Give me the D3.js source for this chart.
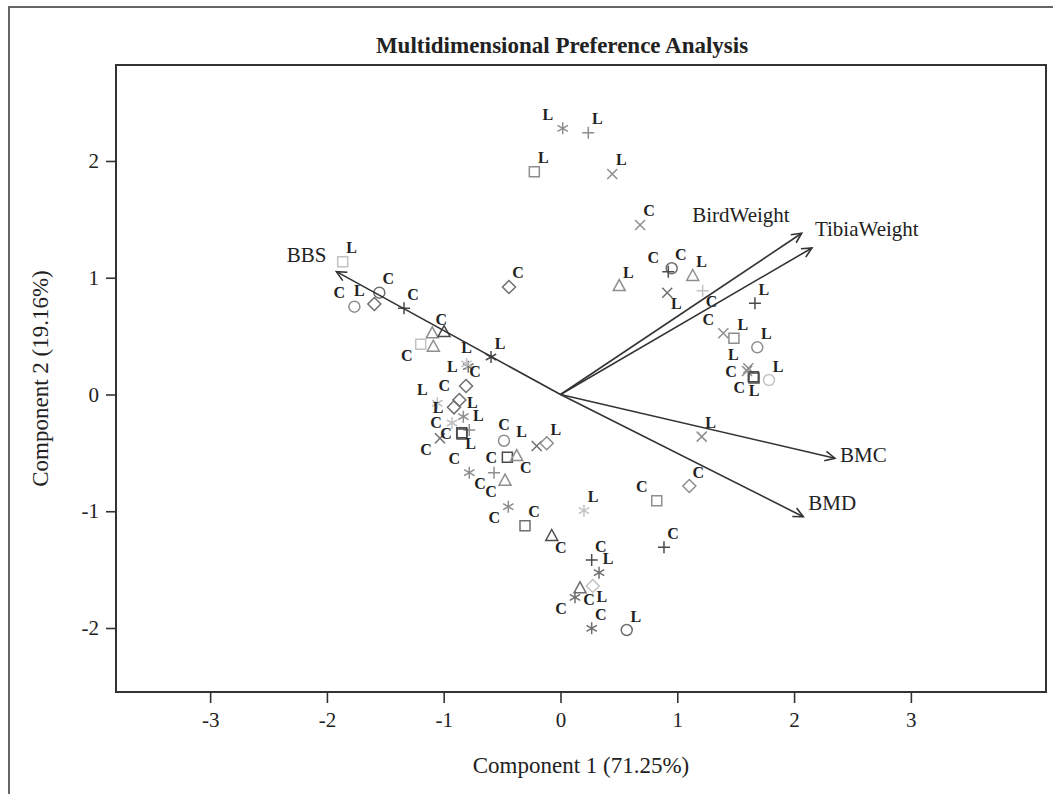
<!DOCTYPE html>
<html>
<head>
<meta charset="utf-8">
<script src="https://cdn.jsdelivr.net/npm/d3@7"></script>
<style>
  body { margin: 0; background: #fff; }
  text { font-family: "Liberation Serif", "Times New Roman", serif; fill: #222; }
  .obs-label { font-family: "Liberation Serif", "Times New Roman", serif; font-weight: bold; font-size: 16px; fill: #222; }
</style>
</head>
<body>
<script>
// 座標軸刻度
const xTicks = [-3, -2, -1, 0, 1, 2, 3],
  yTicks = [-2, -1, 0, 1, 2];

// 變數向量 (箭頭端點)
const vecNames = ["BBS", "BirdWeight", "TibiaWeight", "BMC", "BMD"],
  vecX = [-1.919, 2.065, 2.153, 2.350, 2.079],
  vecY = [1.052, 1.381, 1.255, -0.546, -1.047];

// 觀測值
const obsX = [
  0.019, 0.238, -0.224, 0.443, 0.681, 0.952, 0.923, 1.132, 0.503, 0.914,
  1.217, 1.665, 1.394, 1.485, 1.685, 1.608, 1.651, 1.785, 1.597, 1.657,
  1.209, 1.103, 0.824, 0.201, 0.886, -0.304, -0.075, 0.267, 0.330, 0.276,
  0.167, 0.124, 0.267, 0.567, -0.809, -0.866, -0.912, -1.055, -0.832, -0.781,
  -0.846, -1.032, -0.929, -0.843, -0.484, -0.204, -0.118, -0.455, -0.375, -0.781,
  -0.569, -0.475, -0.447, -1.865, -1.765, -1.594, -1.551, -1.340, -1.098, -0.997,
  -1.197, -1.089, -0.790, -0.595, -0.441, -0.805
];
const obsY = [
  2.280, 2.242, 1.908, 1.889, 1.452, 1.081, 1.052, 1.015, 0.929, 0.872,
  0.889, 0.781, 0.524, 0.481, 0.404, 0.224, 0.152, 0.124, 0.201, 0.141,
  -0.361, -0.784, -0.910, -0.995, -1.309, -1.124, -1.212, -1.418, -1.526, -1.640,
  -1.660, -1.737, -2.003, -2.017, 0.073, -0.047, -0.110, -0.075, -0.190, -0.304,
  -0.327, -0.375, -0.244, -0.338, -0.396, -0.441, -0.418, -0.538, -0.527, -0.670,
  -0.670, -0.738, -0.961, 1.137, 0.752, 0.775, 0.872, 0.738, 0.524, 0.535,
  0.430, 0.409, 0.238, 0.321, 0.921, 0.262
];
const obsSym = [
  "star", "plus", "square", "x", "x", "circle", "plus", "triangle", "triangle", "x",
  "plus", "plus", "x", "square", "circle", "x", "square", "circle", "x", "square",
  "x", "diamond", "square", "star", "plus", "square", "triangle", "plus", "star", "diamond",
  "triangle", "star", "star", "circle", "diamond", "diamond", "diamond", "star", "star", "plus",
  "square", "x", "star", "square", "circle", "x", "diamond", "square", "triangle", "star",
  "plus", "triangle", "star", "square", "circle", "diamond", "circle", "plus", "triangle", "triangle",
  "square", "triangle", "star", "star", "diamond", "star"
];
const obsShade = [
  "m", "m", "m", "m", "m", "md", "d", "m", "m", "md",
  "l", "d", "m", "m", "m", "m", "d", "l", "m", "d",
  "m", "m", "m", "l", "d", "md", "d", "d", "md", "l",
  "md", "md", "md", "md", "md", "md", "md", "l", "m", "m",
  "d", "md", "l", "d", "m", "md", "m", "d", "m", "m",
  "m", "m", "m", "l", "m", "md", "md", "d", "m", "d",
  "l", "m", "md", "d", "md", "l"
];
const obsLab = [
  "L", "L", "L", "L", "C", "C", "C", "L", "L", "L",
  "C", "L", "C", "L", "L", "L", "C", "L", "C", "L",
  "L", "C", "C", "L", "C", "C", "C", "C", "L", "L",
  "C", "C", "C", "L", "C", "C", "L", "L", "L", "L",
  "L", "C", "C", "C", "C", "L", "L", "C", "C", "C",
  "C", "C", "C", "L", "C", "L", "C", "C", "C", "",
  "C", "", "L", "L", "C", "L"
];
// 標籤方位
const obsPos = [
  "nw", "ne", "ne", "ne", "ne", "ne", "nw", "ne", "ne", "se",
  "se", "ne", "nw", "ne", "ne", "nw", "sw", "ne", "w", "s",
  "ne", "ne", "nw", "ne", "ne", "ne", "se", "ne", "ne", "se",
  "se", "sw", "ne", "ne", "ne", "nw", "w", "nw", "ne", "ne",
  "se", "sw", "w", "w", "n", "nw", "ne", "w", "se", "nw",
  "sw", "sw", "sw", "ne", "nw", "nw", "ne", "ne", "ne", "n",
  "sw", "e", "w", "ne", "ne", "n"
];

// 顏色與符號
const shades = { d: "#4b4b4b", md: "#6f6f6f", m: "#8e8e8e", l: "#c2c2c2" };
const symbols = {
  square: "M-5,-5H5V5H-5Z",
  circle: "M5.5,0A5.5,5.5 0 1 1 -5.5,0A5.5,5.5 0 1 1 5.5,0Z",
  triangle: "M0,-6.5L6,4.5H-6Z",
  diamond: "M0,-6.5L6.5,0L0,6.5L-6.5,0Z",
  plus: "M-6,0H6M0,-6V6",
  x: "M-5,-5L5,5M-5,5L5,-5",
  star: "M0,-6V6M-5.2,-3L5.2,3M-5.2,3L5.2,-3"
};
const labelOffset = {
  ne: [9, -14], nw: [-15, -14], se: [9, 11], sw: [-14, 11],
  e: [13, -2], w: [-16, 0], n: [0, -16], s: [0, 12]
};

const W = 1053, H = 794;
const frame = { left: 116, right: 1046, top: 65, bottom: 692 };

const svg = d3.select("body").append("svg")
  .attr("width", W)
  .attr("height", H);

// 外框
svg.append("rect")
  .attr("x", 9).attr("y", 7)
  .attr("width", W + 20).attr("height", H + 20)
  .attr("fill", "none")
  .attr("stroke", "#666")
  .attr("stroke-width", 2);

// 比例尺
let x = d3.scaleLinear()
  .domain([-3.806, 4.157])
  .range([frame.left, frame.right]);
let y = d3.scaleLinear()
  .domain([-2.548, 2.822])
  .range([frame.bottom, frame.top]);

// 座標軸
let xAxis = d3.axisBottom(x)
  .tickValues(xTicks)
  .tickFormat(d => String(d))
  .tickSize(11)
  .tickPadding(9);
let yAxis = d3.axisLeft(y)
  .tickValues(yTicks)
  .tickFormat(d => String(d))
  .tickSize(10)
  .tickPadding(7);

let gx = svg.append("g")
  .attr("transform", "translate(0," + frame.bottom + ")")
  .call(xAxis);
let gy = svg.append("g")
  .attr("transform", "translate(" + frame.left + ",0)")
  .call(yAxis);

[gx, gy].forEach(g => {
  g.select(".domain").remove();
  g.selectAll(".tick line").attr("stroke", "#333").attr("stroke-width", 1.6);
  g.selectAll(".tick text")
    .attr("fill", "#222")
    .style("font-family", '"Liberation Serif", "Times New Roman", serif')
    .style("font-size", "21px");
});

// 圖框
svg.append("rect")
  .attr("x", frame.left).attr("y", frame.top)
  .attr("width", frame.right - frame.left)
  .attr("height", frame.bottom - frame.top)
  .attr("fill", "none")
  .attr("stroke", "#333")
  .attr("stroke-width", 2);

// 標題
svg.append("text")
  .attr("x", 562)
  .attr("y", 53)
  .attr("text-anchor", "middle")
  .style("font-size", "23px")
  .style("font-weight", "bold")
  .text("Multidimensional Preference Analysis");

svg.append("text")
  .attr("x", (frame.left + frame.right) / 2)
  .attr("y", 773)
  .attr("text-anchor", "middle")
  .style("font-size", "23px")
  .text("Component 1 (71.25%)");

svg.append("text")
  .attr("transform", "translate(48," + (frame.top + frame.bottom) / 2 + ") rotate(-90)")
  .attr("text-anchor", "middle")
  .style("font-size", "23px")
  .text("Component 2 (19.16%)");

// 觀測點
const obs = obsX.map((v, i) => ({
  x: v, y: obsY[i], sym: obsSym[i], shade: obsShade[i], lab: obsLab[i], pos: obsPos[i]
}));

let gObs = svg.append("g");
gObs.selectAll("path")
  .data(obs)
  .join("path")
  .attr("transform", d => "translate(" + x(d.x) + "," + y(d.y) + ")")
  .attr("d", d => symbols[d.sym])
  .attr("fill", "none")
  .attr("stroke", d => shades[d.shade])
  .attr("stroke-width", 1.5);

gObs.selectAll("text")
  .data(obs.filter(d => d.lab !== ""))
  .join("text")
  .attr("class", "obs-label")
  .attr("x", d => x(d.x) + labelOffset[d.pos][0])
  .attr("y", d => y(d.y) + labelOffset[d.pos][1])
  .attr("text-anchor", "middle")
  .attr("dominant-baseline", "central")
  .text(d => d.lab);

// 向量箭頭
const vecLabelLayout = {
  BBS: { anchor: "end", dx: -10, dy: -17 },
  BirdWeight: { anchor: "end", dx: -12, dy: -18 },
  TibiaWeight: { anchor: "start", dx: 3, dy: -19 },
  BMC: { anchor: "start", dx: 5, dy: -3 },
  BMD: { anchor: "start", dx: 5, dy: -14 }
};

let gVec = svg.append("g");
vecNames.forEach((name, i) => {
  let x0 = x(0), y0 = y(0),
    x1 = x(vecX[i]), y1 = y(vecY[i]),
    ang = Math.atan2(y1 - y0, x1 - x0),
    head = 11, spread = 0.45;

  gVec.append("line")
    .attr("x1", x0).attr("y1", y0)
    .attr("x2", x1).attr("y2", y1)
    .attr("stroke", "#333")
    .attr("stroke-width", 1.6);

  gVec.append("path")
    .attr("d", "M" + (x1 - head * Math.cos(ang - spread)) + "," + (y1 - head * Math.sin(ang - spread)) +
      "L" + x1 + "," + y1 +
      "L" + (x1 - head * Math.cos(ang + spread)) + "," + (y1 - head * Math.sin(ang + spread)))
    .attr("fill", "none")
    .attr("stroke", "#333")
    .attr("stroke-width", 1.6);

  let lay = vecLabelLayout[name];
  gVec.append("text")
    .attr("x", x1 + lay.dx)
    .attr("y", y1 + lay.dy)
    .attr("text-anchor", lay.anchor)
    .attr("dominant-baseline", "central")
    .style("font-size", "21px")
    .text(name);
});
</script>
</body>
</html>
